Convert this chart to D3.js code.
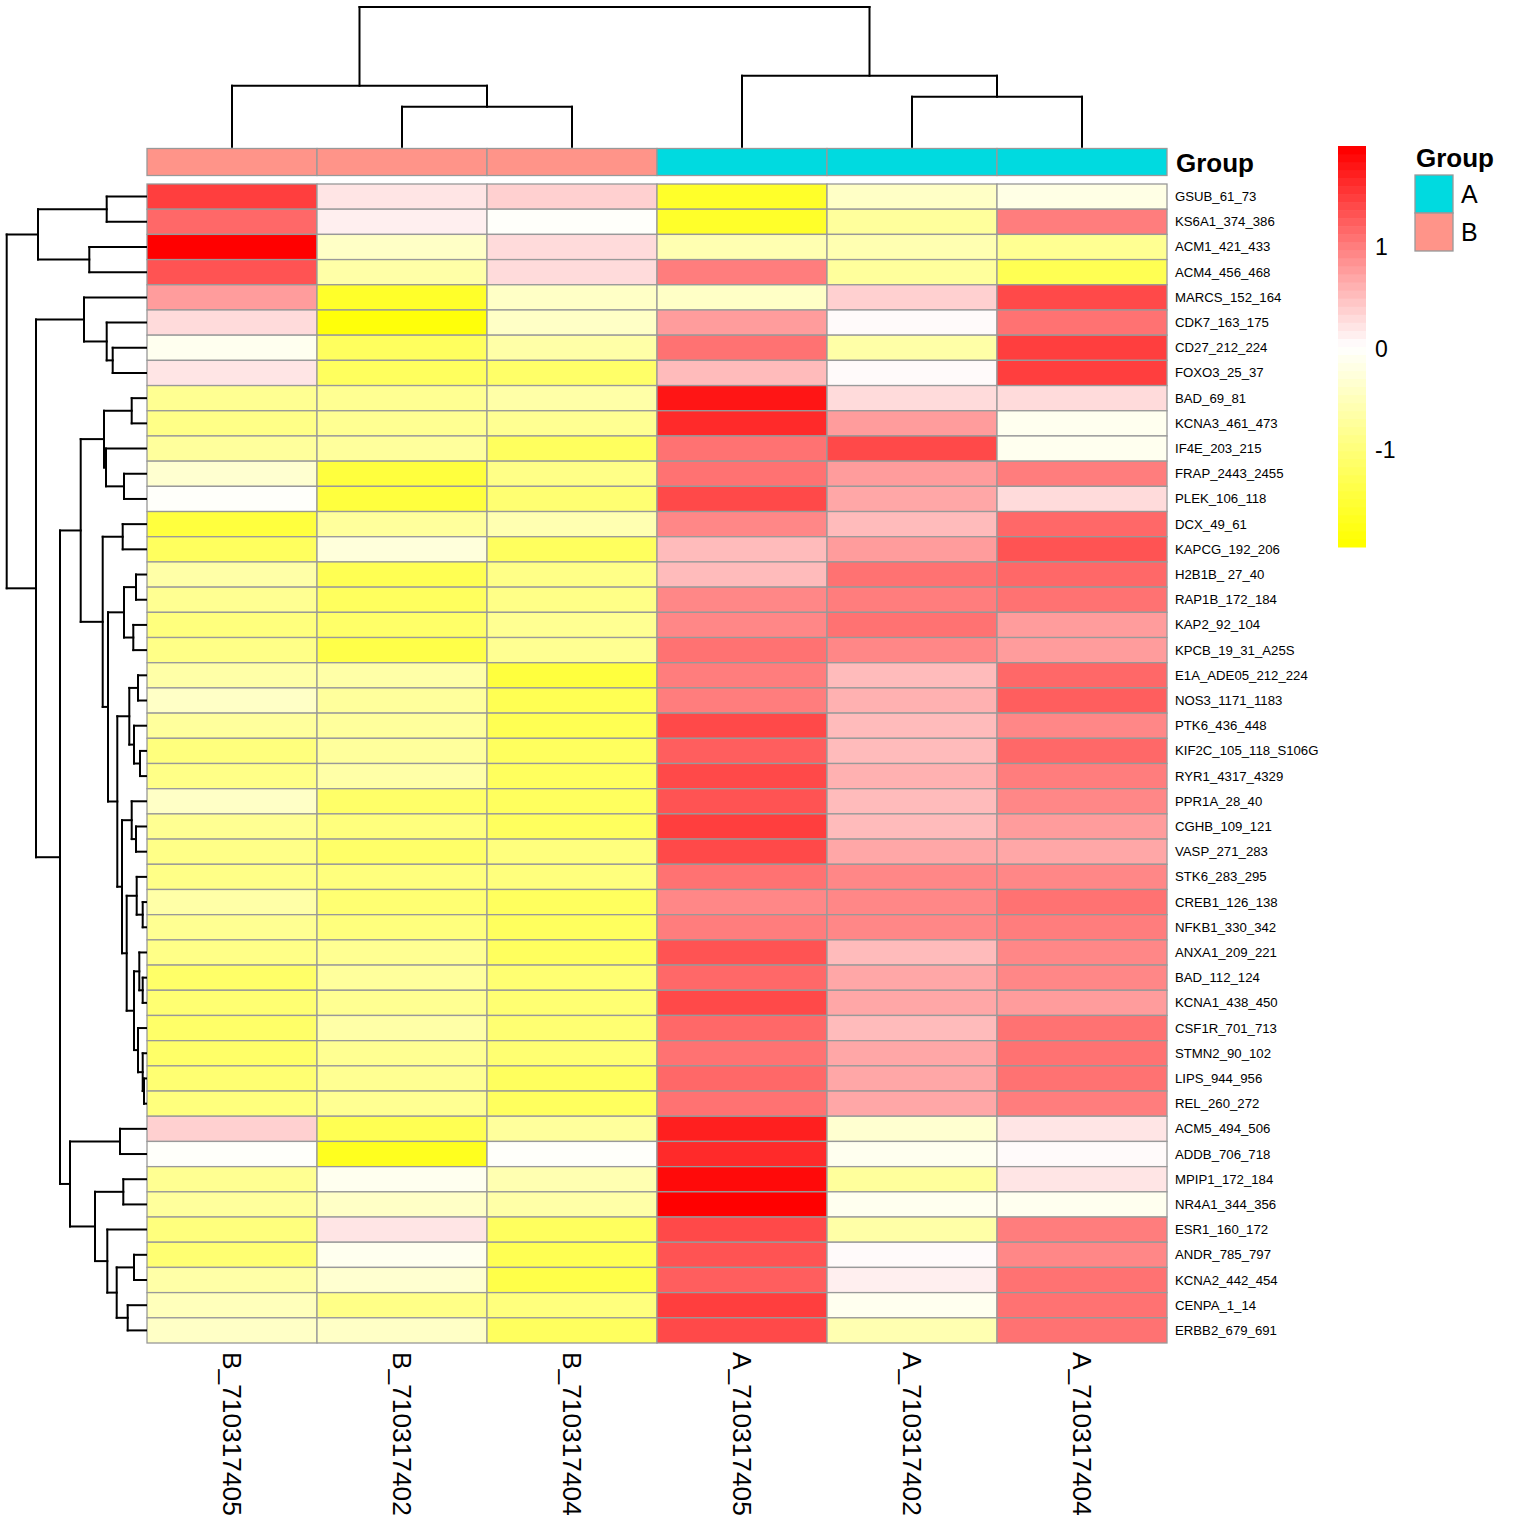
<!DOCTYPE html>
<html><head><meta charset="utf-8">
<script src="https://cdn.jsdelivr.net/npm/d3@7"></script>
<style>body{margin:0;background:#fff}svg text{font-family:"Liberation Sans",Arial,Helvetica,sans-serif}</style>
</head><body>
<svg id="c" width="1536" height="1536"></svg>
<script>
const columns = ["B_710317405","B_710317402","B_710317404","A_710317405","A_710317402","A_710317404"];
const groups = ["B","B","B","A","A","A"];
const groupNames = ["A","B"];
const groupColors = ["#00DAE0","#FF9489"];
const rows = ["GSUB_61_73","KS6A1_374_386","ACM1_421_433","ACM4_456_468","MARCS_152_164","CDK7_163_175","CD27_212_224","FOXO3_25_37","BAD_69_81","KCNA3_461_473","IF4E_203_215","FRAP_2443_2455","PLEK_106_118","DCX_49_61","KAPCG_192_206","H2B1B_ 27_40","RAP1B_172_184","KAP2_92_104","KPCB_19_31_A25S","E1A_ADE05_212_224","NOS3_1171_1183","PTK6_436_448","KIF2C_105_118_S106G","RYR1_4317_4329","PPR1A_28_40","CGHB_109_121","VASP_271_283","STK6_283_295","CREB1_126_138","NFKB1_330_342","ANXA1_209_221","BAD_112_124","KCNA1_438_450","CSF1R_701_713","STMN2_90_102","LIPS_944_956","REL_260_272","ACM5_494_506","ADDB_706_718","MPIP1_172_184","NR4A1_344_356","ESR1_160_172","ANDR_785_797","KCNA2_442_454","CENPA_1_14","ERBB2_679_691"];
const values = [
[1.5,0.2,0.4,-1.56,-0.39,-0.2],
[1.2,0.13,-0.04,-1.56,-0.72,1.0],
[2.0,-0.39,0.3,-0.55,-0.6,-0.8],
[1.33,-0.65,0.3,1.0,-0.7,-1.3],
[0.8,-1.62,-0.39,-0.39,0.4,1.37],
[0.3,-1.82,-0.39,0.8,0.05,1.07],
[-0.08,-1.17,-0.65,1.07,-0.65,1.47],
[0.2,-1.17,-1.15,0.5,0.05,1.5],
[-0.78,-0.78,-0.65,1.8,0.3,0.3],
[-0.9,-0.78,-0.78,1.65,0.74,-0.06],
[-0.72,-0.72,-1.17,1.12,1.37,-0.06],
[-0.36,-1.46,-0.9,1.12,0.74,1.0],
[-0.04,-1.43,-1.04,1.42,0.67,0.3],
[-1.43,-0.72,-0.6,0.89,0.56,1.2],
[-1.22,-0.26,-1.17,0.56,0.8,1.3],
[-0.66,-1.3,-0.9,0.56,1.07,1.16],
[-0.78,-1.17,-0.9,0.89,1.0,1.12],
[-0.98,-1.1,-0.78,0.96,1.12,0.74],
[-0.85,-1.34,-0.78,1.12,0.96,0.74],
[-0.65,-0.65,-1.43,1.04,0.5,1.2],
[-0.39,-0.72,-1.3,1.04,0.6,1.25],
[-0.72,-0.72,-1.3,1.37,0.5,0.93],
[-0.98,-0.72,-1.17,1.25,0.5,1.16],
[-0.85,-0.65,-1.22,1.37,0.6,1.0],
[-0.39,-1.1,-1.17,1.31,0.56,0.89],
[-0.78,-0.98,-1.17,1.45,0.56,0.74],
[-0.85,-1.1,-0.98,1.37,0.72,0.72],
[-0.9,-1.0,-0.98,1.12,0.89,0.89],
[-0.65,-1.04,-1.22,0.96,0.89,1.07],
[-0.78,-0.98,-1.22,1.04,0.89,1.0],
[-0.9,-0.78,-1.17,1.31,0.56,0.89],
[-1.1,-0.7,-1.04,1.16,0.72,0.89],
[-1.04,-0.78,-1.04,1.37,0.72,0.8],
[-1.14,-0.65,-1.04,1.2,0.56,1.07],
[-1.14,-0.78,-1.04,1.12,0.72,1.07],
[-1.04,-0.78,-1.17,1.2,0.67,1.07],
[-0.98,-0.78,-1.17,1.07,0.72,1.0],
[0.4,-1.3,-0.72,1.73,-0.36,0.2],
[-0.04,-1.69,-0.04,1.65,-0.08,0.08],
[-0.78,-0.08,-0.58,1.87,-0.72,0.2],
[-0.72,-0.39,-0.65,2.0,-0.08,-0.08],
[-0.98,0.2,-1.17,1.42,-0.65,1.0],
[-1.04,-0.08,-1.3,1.33,0.05,0.96],
[-0.65,-0.36,-1.34,1.25,0.13,1.12],
[-0.47,-0.85,-0.98,1.5,-0.06,1.12],
[-0.45,-0.42,-1.17,1.42,-0.55,1.12]
];
// dendrograms: [height, left, right]; leaves are indices
const colTree = [13.97, [6.1, 0, [4.0, 1, 2]], [7.1, 3, [5.0, 4, 5]]];
const rowTree = [13.93,
  [10.8, [3.93, 0, 1], [5.67, 2, 3]],
  [11.0,
    [6.2, 4, [3.93, 5, [3.33, 6, 7]]],
    [8.6,
      [6.53,
        [4.2, [1.43, 8, 9], [4.0, 10, [2.2, 11, 12]]],
        [4.33, [2.33, 13, 14],
          [3.8,
            [2.2, [1.0, 15, 16], [1.27, 17, 18]],
            [2.87,
              [1.67, [0.8, 19, 20], [1.2, 21, [0.6, 22, 23]]],
              [2.4, [1.43, 24, [1.0, 25, 26]],
                [1.93, [0.93, 27, [0.33, 28, 29]],
                  [1.2, [0.67, 30, [0.33, 31, 32]], [0.8, 33, [0.33, 34, [0.2, 35, 36]]]]]]]]]],
      [7.6, [2.6, 37, 38],
        [5.1, [2.27, 39, 40], [3.87, 41, [2.93, [1.2, 42, 43], [1.83, 44, 45]]]]]]]];
const legendTicks = [-1, 0, 1];
const vMin = -1.95, vMax = 1.99;

const svg = d3.select("#c");
const x = d3.scaleBand().domain(d3.range(columns.length)).range([147, 1167]);
const y = d3.scaleBand().domain(d3.range(rows.length)).range([184, 1343]);
const nCol = 50;
const palette = d3.quantize(d3.piecewise(d3.interpolateRgb, ["#FFFF00", "#FFFFFF", "#FF0000"]), nCol);
const color = d3.scaleQuantize().domain([vMin, vMax]).range(palette);
const gCol = d3.scaleOrdinal().domain(groupNames).range(groupColors);

// cells
const cells = [];
values.forEach((r, i) => r.forEach((v, j) => cells.push({i, j, v})));
svg.append("g").selectAll("rect").data(cells).join("rect")
  .attr("x", d => x(d.j)).attr("y", d => y(d.i))
  .attr("width", x.bandwidth()).attr("height", y.bandwidth())
  .attr("fill", d => color(d.v)).attr("stroke", "#999999").attr("stroke-width", 1.3);

// annotation bar
svg.append("g").selectAll("rect").data(groups).join("rect")
  .attr("x", (d, j) => x(j)).attr("y", 148.5).attr("width", x.bandwidth()).attr("height", 27)
  .attr("fill", d => gCol(d)).attr("stroke", "#999999").attr("stroke-width", 1.3);
svg.append("text").attr("x", 1176).attr("y", 163).attr("dominant-baseline", "central")
  .attr("font-size", 26).attr("font-weight", "bold").text("Group");

// row labels
svg.append("g").selectAll("text").data(rows).join("text")
  .attr("x", 1175).attr("y", (d, i) => y(i) + y.bandwidth() / 2).attr("dominant-baseline", "central")
  .attr("font-size", 13.2).text(d => d);

// column labels
svg.append("g").selectAll("text").data(columns).join("text")
  .attr("transform", (d, j) => `translate(${x(j) + x.bandwidth() / 2},1352) rotate(90)`)
  .attr("dominant-baseline", "central").attr("font-size", 26.3).text(d => d);

// dendrogram layout
function layout(node, pos) {
  if (typeof node === "number") return {p: pos(node), h: 0};
  const a = layout(node[1], pos), b = layout(node[2], pos);
  return {p: (a.p + b.p) / 2, h: node[0], a, b};
}
function segs(n, out) {
  if (!n.a) return out;
  out.push([n.a.p, n.a.h, n.a.p, n.h], [n.a.p, n.h, n.b.p, n.h], [n.b.p, n.h, n.b.p, n.b.h]);
  segs(n.a, out); segs(n.b, out); return out;
}
const colRoot = layout(colTree, j => x(j) + x.bandwidth() / 2);
const hy = d3.scaleLinear().domain([0, colTree[0]]).range([146.7, 7]);
svg.append("g").selectAll("line").data(segs(colRoot, [])).join("line")
  .attr("x1", d => d[0]).attr("y1", d => hy(d[1])).attr("x2", d => d[2]).attr("y2", d => hy(d[3]))
  .attr("stroke", "#000").attr("stroke-width", 2).attr("stroke-linecap", "square");
const rowRoot = layout(rowTree, i => y(i) + y.bandwidth() / 2);
const hx = d3.scaleLinear().domain([0, rowTree[0]]).range([146, 6.7]);
svg.append("g").selectAll("line").data(segs(rowRoot, [])).join("line")
  .attr("y1", d => d[0]).attr("x1", d => hx(d[1])).attr("y2", d => d[2]).attr("x2", d => hx(d[3]))
  .attr("stroke", "#000").attr("stroke-width", 2).attr("stroke-linecap", "square");

// color legend
const ly = d3.scaleLinear().domain([vMin, vMax]).range([547, 146]);
const step = (vMax - vMin) / nCol;
svg.append("g").selectAll("rect").data(palette).join("rect")
  .attr("x", 1338).attr("width", 28)
  .attr("y", (d, k) => ly(vMin + (k + 1) * step)).attr("height", (d, k) => ly(vMin + k * step) - ly(vMin + (k + 1) * step) + 0.5)
  .attr("fill", d => d);
svg.append("g").selectAll("text").data(legendTicks).join("text")
  .attr("x", 1375).attr("y", d => ly(d)).attr("dominant-baseline", "central")
  .attr("font-size", 23).text(d => d);

// group legend
svg.append("text").attr("x", 1416).attr("y", 158).attr("dominant-baseline", "central")
  .attr("font-size", 26).attr("font-weight", "bold").text("Group");
svg.append("g").selectAll("rect").data(groupNames).join("rect")
  .attr("x", 1415).attr("y", (d, k) => 175 + k * 38).attr("width", 38).attr("height", 38)
  .attr("fill", d => gCol(d)).attr("stroke", "#999999").attr("stroke-width", 1.3);
svg.append("g").selectAll("text").data(groupNames).join("text")
  .attr("x", 1461).attr("y", (d, k) => 194 + k * 38).attr("dominant-baseline", "central")
  .attr("font-size", 25).text(d => d);
</script>
</body></html>
